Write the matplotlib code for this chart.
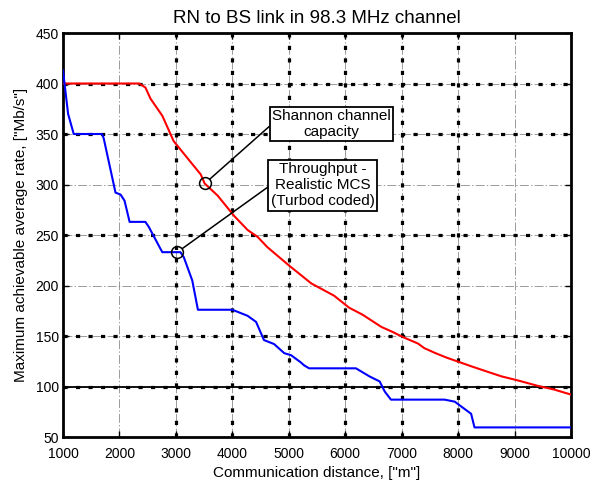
import matplotlib
matplotlib.use("Agg")
import matplotlib.pyplot as plt

plt.rcParams['font.family'] = ['Liberation Sans', 'DejaVu Sans']
plt.rcParams['lines.scale_dashes'] = False

# Shannon channel capacity (red)
shannon_x = [1000, 2350, 2460, 2550, 2760, 2960, 3250, 3440, 3510, 3740, 4030, 4270,
             4450, 4620, 5000, 5200, 5400, 5600, 5800, 6070, 6310, 6640, 6840, 7020,
             7290, 7400, 7600, 7800, 8030, 8260, 8500, 8770, 9060, 9420, 9700, 10000]
shannon_y = [400, 400, 396, 385, 368, 343, 323, 310, 301, 289, 269, 255,
             248, 238, 220, 211, 202, 196, 190, 178, 171, 159, 154, 149,
             142.5, 138, 133, 128.5, 124, 119.5, 115, 110, 106, 100.5, 97, 92]

# Throughput with realistic MCS, turbo coded (blue)
mcs_x = [1000, 1090, 1190, 1690, 1720, 1930, 2020, 2090, 2180, 2460, 2520, 2730,
         2760, 3080, 3140, 3290, 3390, 4000, 4270, 4420, 4560, 4740, 4920, 5040,
         5210, 5270, 5360, 6190, 6430, 6610, 6700, 6810, 7760, 7940, 8060, 8230,
         8290, 10000]
mcs_y = [413, 370, 350, 350, 346, 292, 290, 284, 263, 263, 258, 236,
         233, 233, 228, 205, 176, 176, 170, 164, 146, 142, 133, 131,
         124, 121, 118, 118, 110, 105, 95, 87, 87, 85, 80, 73,
         59.5, 59.5]

x_ticks = [1000, 2000, 3000, 4000, 5000, 6000, 7000, 8000, 9000, 10000]
y_ticks = [50, 100, 150, 200, 250, 300, 350, 400, 450]
heavy_x = [3000, 4000, 5000, 6000, 7000, 8000]
heavy_y = [100, 150, 250, 350, 400]

shannon_mark = (3513, 301)
mcs_mark = (3025, 233)

fig = plt.figure(figsize=(5.91, 4.84), dpi=100)
ax = fig.add_axes([0.1066, 0.0971, 0.8596, 0.8347])

# grid: thin grey dash-dot everywhere, heavy black dashes on selected lines
for xv in x_ticks[1:-1]:
    ax.axvline(xv, color='0.55', lw=0.6, ls='-.', zorder=1)
for yv in y_ticks[1:-1]:
    ax.axhline(yv, color='0.55', lw=0.6, ls='-.', zorder=1)
for xv in heavy_x:
    ax.axvline(xv, color='black', lw=2.3, dashes=(3, 6), zorder=1.5)
for yv in heavy_y:
    ax.axhline(yv, color='black', lw=2.3, dashes=(3, 6), zorder=1.5)
ax.axhline(100, color='black', lw=1.3, zorder=1.6)

ax.plot(shannon_x, shannon_y, color='#ff0000', lw=1.5, zorder=3)
ax.plot(mcs_x, mcs_y, color='#0000ff', lw=1.5, zorder=3)

for pt in (shannon_mark, mcs_mark):
    ax.plot(*pt, marker='o', ms=8.5, mfc='none', mec='black', mew=1.1, zorder=4)

box = dict(boxstyle='square,pad=0.15', fc='white', ec='black', lw=1.3)
ax.annotate('Shannon channel\ncapacity', xy=shannon_mark, xytext=(5757, 360),
            textcoords='data', ha='center', va='center', multialignment='center',
            fontsize=11, bbox=box, zorder=5,
            arrowprops=dict(arrowstyle='-', color='black', lw=1.1,
                            shrinkA=0, shrinkB=4.5, relpos=(0, 0.5)))
ax.annotate('Throughput -\nRealistic MCS\n(Turbod coded)', xy=mcs_mark,
            xytext=(5600, 299.5), textcoords='data', ha='center', va='center',
            multialignment='center', fontsize=11, bbox=box, zorder=5,
            arrowprops=dict(arrowstyle='-', color='black', lw=1.1,
                            shrinkA=0, shrinkB=4.5, relpos=(0, 0.5)))

ax.set_xlim(1000, 10000)
ax.set_ylim(50, 450)
ax.set_xticks(x_ticks)
ax.set_yticks(y_ticks)
ax.tick_params(direction='in', length=4, width=1, top=True, right=True,
               labelsize=10)
ax.tick_params(axis='x', pad=7.5)
ax.tick_params(axis='y', pad=3)
for s in ax.spines.values():
    s.set_linewidth(2)

ax.set_title('RN to BS link in 98.3 MHz channel', fontsize=13.5, pad=7)
ax.set_xlabel('Communication distance, ["m"]', fontsize=11)
ax.set_ylabel('Maximum achievable average rate, ["Mb/s"]', fontsize=11)
ax.xaxis.set_label_coords(0.5, -0.073)
ax.yaxis.set_label_coords(-0.069, 0.5)

fig.savefig('out.png', dpi=100)
